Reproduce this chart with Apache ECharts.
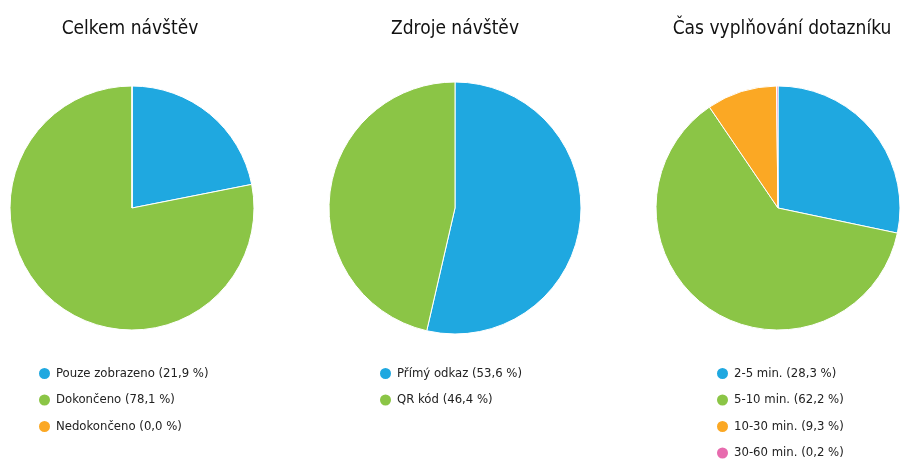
<!DOCTYPE html>
<html>
<head>
<meta charset="utf-8">
<script src="https://cdn.jsdelivr.net/npm/echarts@6/dist/echarts.min.js"></script>
<style>
  html, body { margin: 0; padding: 0; background: #fff; }
  #main { width: 900px; height: 459px; }
</style>
</head>
<body>
<div id="main"></div>
<script>
// data
const titles = ['Celkem návštěv', 'Zdroje návštěv', 'Čas vyplňování dotazníku']

const visitNames = ['Pouze zobrazeno', 'Dokončeno', 'Nedokončeno']
const visitValues = [21.9, 78.1, 0.0]

const sourceNames = ['Přímý odkaz', 'QR kód']
const sourceValues = [53.6, 46.4]

const timeNames = ['2-5 min.', '5-10 min.', '10-30 min.', '30-60 min.']
const timeValues = [28.3, 62.2, 9.3, 0.2]

const colors = ['#1fa8e0', '#8bc546', '#fba824', '#e76bae']
const font = '"Liberation Sans Narrow", "DejaVu Sans Condensed", sans-serif'

function toData(names, values) {
  return names.map((n, i) => ({ name: n, value: values[i], itemStyle: { color: colors[i] } }))
}

function pctLabel(names, values) {
  return function (name) {
    let i = names.indexOf(name)
    return name + ' (' + values[i].toFixed(1).replace('.', ',') + ' %)'
  }
}

const chart = echarts.init(document.getElementById('main'))

const centers = [[132, 208], [455, 208], [778, 208]]
const radii = [122, 126, 122]
const groups = [
  [visitNames, visitValues],
  [sourceNames, sourceValues],
  [timeNames, timeValues]
]
const legendLeft = [32, 373, 710]
const titleX = [125, 450, 777]

chart.setOption({
  animation: false,
  title: titles.map((t, i) => ({
    text: t,
    left: titleX[i],
    top: 15,
    textAlign: 'center',
    textStyle: { fontFamily: font, fontSize: 19, fontWeight: 'normal', color: '#111' }
  })),
  legend: groups.map((g, i) => ({
    data: g[0],
    orient: 'vertical',
    left: legendLeft[i],
    top: 361,
    height: 140,
    icon: 'circle',
    itemWidth: 13,
    itemHeight: 13,
    itemGap: 11.5,
    itemTextGap: 10,
    selectedMode: false,
    formatter: pctLabel(g[0], g[1]),
    textStyle: { fontFamily: font, fontSize: 13, color: '#222' }
  })),
  series: groups.map((g, i) => ({
    type: 'pie',
    center: centers[i],
    radius: radii[i],
    startAngle: 90,
    clockwise: true,
    label: { show: false },
    labelLine: { show: false },
    emphasis: { disabled: true },
    itemStyle: { borderColor: '#fff', borderWidth: 1 },
    data: toData(g[0], g[1])
  }))
})
</script>
</body>
</html>
